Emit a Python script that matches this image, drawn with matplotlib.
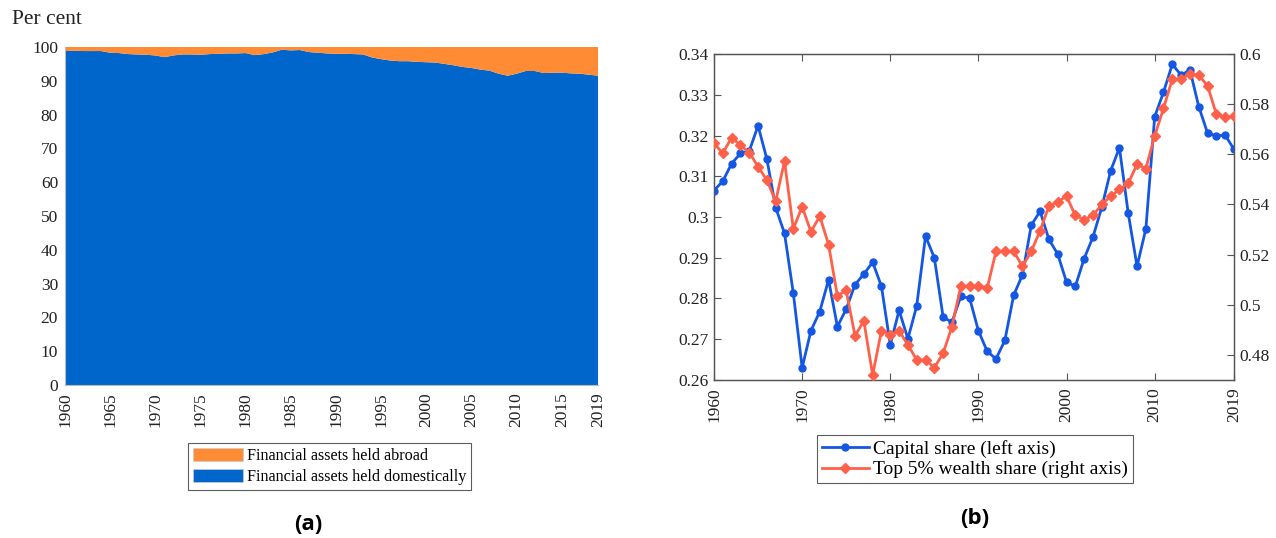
import matplotlib
matplotlib.use("Agg")
import matplotlib.pyplot as plt
import numpy as np
from matplotlib.patches import Patch
from matplotlib.lines import Line2D

years = list(range(1960, 2020))

# Panel (a): share of financial assets held domestically (per cent)
domestic_share = [
    98.8, 98.9, 98.8, 98.8, 98.8, 98.3, 98.2, 97.9, 97.8, 97.7,
    97.5, 97.0, 97.5, 97.8, 97.8, 97.7, 97.9, 98.0, 98.1, 98.1,
    98.2, 97.6, 97.9, 98.4, 99.2, 99.0, 99.1, 98.5, 98.3, 98.1,
    98.0, 98.0, 97.9, 97.8, 96.9, 96.4, 96.0, 95.8, 95.8, 95.6,
    95.5, 95.4, 95.0, 94.6, 94.1, 93.8, 93.3, 93.0, 92.1, 91.5,
    92.1, 92.9, 92.9, 92.3, 92.4, 92.4, 92.2, 92.1, 91.8, 91.5,
]
abroad_share = [100 - d for d in domestic_share]

# Panel (b): capital share (left axis) and top 5% wealth share (right axis)
capital_share = [
    0.3065, 0.3088, 0.3131, 0.3156, 0.3162, 0.3224, 0.3142, 0.3023, 0.2960, 0.2813,
    0.2630, 0.2721, 0.2768, 0.2846, 0.2731, 0.2774, 0.2834, 0.2860, 0.2889, 0.2830,
    0.2686, 0.2771, 0.2701, 0.2782, 0.2953, 0.2900, 0.2754, 0.2742, 0.2805, 0.2801,
    0.2721, 0.2670, 0.2652, 0.2697, 0.2808, 0.2858, 0.2980, 0.3014, 0.2945, 0.2909,
    0.2840, 0.2830, 0.2898, 0.2951, 0.3024, 0.3113, 0.3170, 0.3009, 0.2879, 0.2971,
    0.3246, 0.3306, 0.3375, 0.3348, 0.3361, 0.3271, 0.3206, 0.3199, 0.3201, 0.3166,
]
top5_wealth_share = [
    0.5644, 0.5604, 0.5667, 0.5636, 0.5607, 0.5551, 0.5497, 0.5413, 0.5573, 0.5303,
    0.5391, 0.5291, 0.5353, 0.5240, 0.5036, 0.5057, 0.4876, 0.4936, 0.4720, 0.4897,
    0.4880, 0.4896, 0.4840, 0.4780, 0.4780, 0.4749, 0.4807, 0.4913, 0.5073, 0.5073,
    0.5073, 0.5067, 0.5213, 0.5213, 0.5213, 0.5153, 0.5213, 0.5296, 0.5393, 0.5411,
    0.5433, 0.5356, 0.5340, 0.5356, 0.5400, 0.5433, 0.5460, 0.5484, 0.5560, 0.5543,
    0.5673, 0.5783, 0.5900, 0.5900, 0.5920, 0.5916, 0.5873, 0.5760, 0.5747, 0.5751,
]

left_xticks = [1960, 1965, 1970, 1975, 1980, 1985, 1990, 1995, 2000, 2005, 2010, 2015, 2019]
right_xticks = [1960, 1970, 1980, 1990, 2000, 2010, 2019]
left_yticks = list(range(0, 101, 10))
cap_yticks = [0.26, 0.27, 0.28, 0.29, 0.30, 0.31, 0.32, 0.33, 0.34]
cap_ylabels = ["0.26", "0.27", "0.28", "0.29", "0.3", "0.31", "0.32", "0.33", "0.34"]
wealth_yticks = [0.48, 0.50, 0.52, 0.54, 0.56, 0.58, 0.60]
wealth_ylabels = ["0.48", "0.5", "0.52", "0.54", "0.56", "0.58", "0.6"]

SERIF = "Liberation Serif"
FS = 12.5
BLUE_AREA = "#0066CC"
ORANGE_AREA = "#FF8C35"
BLUE_LINE = "#1457E3"
RED_LINE = "#FF6049"
SPINE = "#555555"

plt.rcParams["font.family"] = [SERIF, "DejaVu Serif"]

W, H = 1276, 538
fig = plt.figure(figsize=(W / 100, H / 100), dpi=100)


def fig_rect(x0, y0, x1, y1):
    return [x0 / W, 1 - y1 / H, (x1 - x0) / W, (y1 - y0) / H]


# ---------- panel (a) ----------
ax1 = fig.add_axes(fig_rect(65, 47, 598, 385))
ax1.stackplot(years, domestic_share, abroad_share,
              colors=[BLUE_AREA, ORANGE_AREA], linewidth=0)
ax1.set_xlim(1960, 2019)
ax1.set_ylim(0, 100)
ax1.set_xticks(left_xticks)
ax1.set_xticklabels([str(t) for t in left_xticks], rotation=90, fontsize=FS)
ax1.set_yticks(left_yticks)
ax1.set_yticklabels([str(t) for t in left_yticks], fontsize=FS)
ax1.tick_params(axis="both", length=0, pad=5, colors="#222222")
for side in ["top", "right"]:
    ax1.spines[side].set_visible(False)
ax1.spines["left"].set_color("#bbbbbb")
ax1.spines["bottom"].set_color("#bbbbbb")
ax1.spines["left"].set_linewidth(0.8)
ax1.spines["bottom"].set_linewidth(0.8)
fig.text(12 / W, 1 - 20 / H, "Per cent", fontsize=15.5, va="center", ha="left",
         color="#222222")

leg1 = fig.legend(
    handles=[Patch(facecolor=ORANGE_AREA, edgecolor="#cccccc", linewidth=0.5),
             Patch(facecolor=BLUE_AREA, edgecolor="#cccccc", linewidth=0.5)],
    labels=["Financial assets held abroad", "Financial assets held domestically"],
    loc="upper left", bbox_to_anchor=(188 / W, 1 - 443 / H),
    fontsize=11.6, frameon=True, fancybox=False, handlelength=3.1,
    handleheight=0.9, handletextpad=0.25, borderpad=0.3, labelspacing=0.3,
    borderaxespad=0,
)
leg1.get_frame().set_edgecolor("#333333")
leg1.get_frame().set_linewidth(0.8)

fig.text(308 / W, 1 - 524 / H, "(a)", fontsize=16, fontweight="bold",
         ha="center", va="center", family=["Open Sans", "DejaVu Sans"])

# ---------- panel (b) ----------
ax2 = fig.add_axes(fig_rect(714, 54, 1234, 380))
ax2.plot(years, capital_share, color=BLUE_LINE, lw=2.0, marker="o", ms=5,
         zorder=3)
ax2.set_xlim(1960, 2019)
ax2.set_ylim(0.26, 0.34)
ax2.set_xticks(right_xticks)
ax2.set_xticklabels([str(t) for t in right_xticks], rotation=90, fontsize=FS)
ax2.set_yticks(cap_yticks)
ax2.set_yticklabels(cap_ylabels, fontsize=FS)
ax2.tick_params(axis="x", direction="in", top=True, length=5, pad=5,
                color=SPINE, labelcolor="#222222")
ax2.tick_params(axis="y", direction="in", right=False, length=5, pad=4,
                color=SPINE, labelcolor="#222222")

ax3 = ax2.twinx()
ax3.plot(years, top5_wealth_share, color=RED_LINE, lw=2.0, marker="D", ms=5,
         zorder=3)
ax3.set_ylim(0.47, 0.60)
ax3.set_yticks(wealth_yticks)
ax3.set_yticklabels(wealth_ylabels, fontsize=FS)
ax3.tick_params(axis="y", direction="in", length=5, pad=4, color=SPINE,
                labelcolor="#222222")
for a in (ax2, ax3):
    for s in a.spines.values():
        s.set_color(SPINE)
        s.set_linewidth(0.9)

leg2 = fig.legend(
    handles=[Line2D([], [], color=BLUE_LINE, lw=2.0, marker="o", ms=5),
             Line2D([], [], color=RED_LINE, lw=2.0, marker="D", ms=5)],
    labels=["Capital share (left axis)", "Top 5% wealth share (right axis)"],
    loc="upper left", bbox_to_anchor=(817 / W, 1 - 435 / H),
    fontsize=14, frameon=True, fancybox=False, handlelength=2.4,
    handletextpad=0.25, borderpad=0.25, labelspacing=0.15, borderaxespad=0,
)
leg2.get_frame().set_edgecolor("#333333")
leg2.get_frame().set_linewidth(0.8)

fig.text(975 / W, 1 - 518 / H, "(b)", fontsize=16, fontweight="bold",
         ha="center", va="center", family=["Open Sans", "DejaVu Sans"])

fig.savefig("out.png", dpi=100)
